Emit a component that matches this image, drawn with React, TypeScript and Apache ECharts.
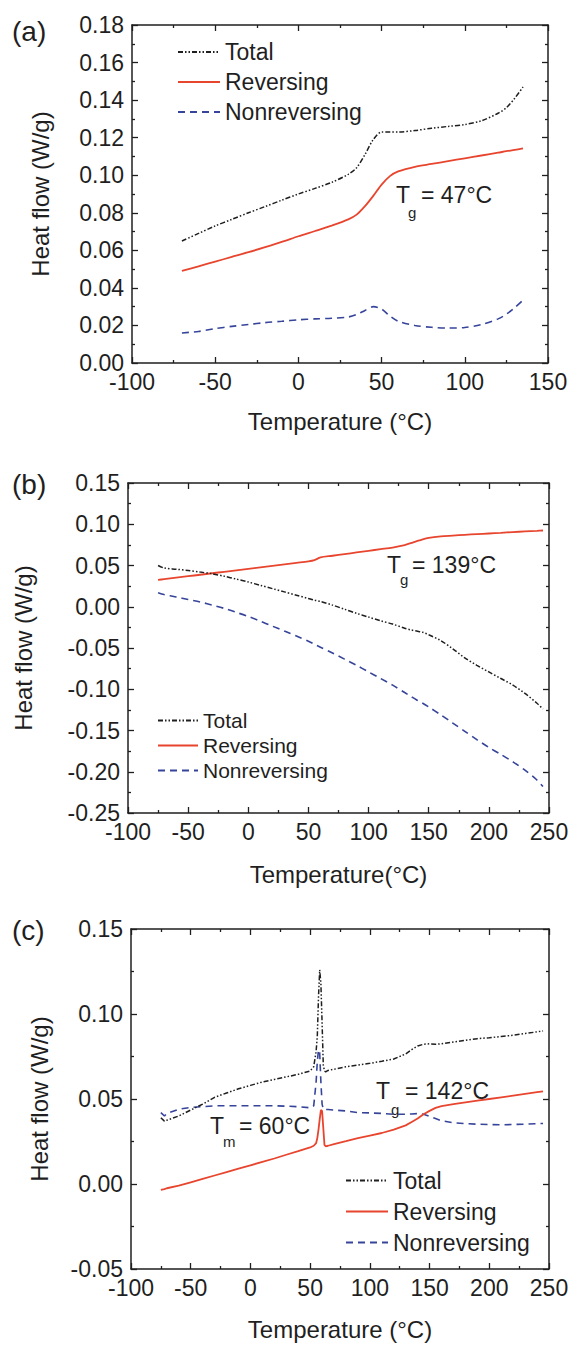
import React, { useEffect, useRef } from "react";
import * as echarts from "echarts";

const FONT = "'Liberation Sans', Arial, Helvetica, sans-serif";
const INK = "#1f1f1f";
const RED = "#e8452f";
const BLUE = "#36449a";

// ---- (a) ----
const tempA = [-70, -60, -50, -40, -30, -20, -10, 0, 10, 20, 30, 35, 40, 45, 50, 55, 60, 70, 80, 90, 100, 110, 120, 125, 130, 135];
const totalA = [0.065, 0.069, 0.073, 0.0765, 0.08, 0.0833, 0.0867, 0.09, 0.093, 0.0962, 0.1005, 0.104, 0.111, 0.119, 0.123, 0.123, 0.123, 0.1238, 0.125, 0.126, 0.127, 0.129, 0.133, 0.136, 0.141, 0.147];
const reversingA = [0.049, 0.0515, 0.054, 0.0565, 0.059, 0.0617, 0.0645, 0.0675, 0.0703, 0.0732, 0.0765, 0.079, 0.0835, 0.089, 0.095, 0.0995, 0.102, 0.1045, 0.106, 0.1075, 0.109, 0.1105, 0.112, 0.1128, 0.1135, 0.1143];
const nonreversingA = [0.016, 0.0168, 0.0183, 0.0195, 0.0205, 0.0215, 0.0222, 0.023, 0.0235, 0.0238, 0.0245, 0.0258, 0.028, 0.03, 0.0287, 0.025, 0.0222, 0.02, 0.019, 0.0186, 0.0189, 0.0205, 0.0235, 0.026, 0.0295, 0.0335];

// ---- (b) ----
const tempB = [-75, -70, -60, -50, -40, -30, -20, -10, 0, 10, 20, 30, 40, 50, 55, 60, 70, 80, 90, 100, 110, 120, 130, 135, 140, 145, 150, 160, 170, 180, 190, 200, 210, 220, 230, 240, 245];
const totalB = [0.05, 0.047, 0.0455, 0.044, 0.042, 0.04, 0.037, 0.0335, 0.03, 0.026, 0.022, 0.018, 0.014, 0.01, 0.008, 0.0065, 0.002, -0.003, -0.008, -0.0125, -0.017, -0.021, -0.026, -0.028, -0.0295, -0.031, -0.034, -0.041, -0.051, -0.062, -0.071, -0.079, -0.087, -0.095, -0.105, -0.117, -0.124];
const reversingB = [0.0325, 0.0334, 0.0352, 0.037, 0.0388, 0.0406, 0.0424, 0.0442, 0.046, 0.0478, 0.0496, 0.0514, 0.0532, 0.055, 0.0565, 0.0598, 0.0618, 0.0638, 0.0658, 0.0678, 0.0698, 0.0718, 0.0748, 0.077, 0.0795, 0.0818, 0.0835, 0.0852, 0.0862, 0.0872, 0.088, 0.0888, 0.0896, 0.0905, 0.0913, 0.092, 0.0924];
const nonreversingB = [0.017, 0.0148, 0.0118, 0.0088, 0.0058, 0.002, -0.002, -0.0068, -0.0118, -0.0175, -0.0235, -0.0295, -0.0355, -0.0418, -0.0455, -0.049, -0.056, -0.0635, -0.071, -0.079, -0.087, -0.095, -0.104, -0.1085, -0.113, -0.117, -0.1215, -0.131, -0.141, -0.151, -0.161, -0.1705, -0.179, -0.188, -0.198, -0.21, -0.218];

// ---- (c) ----
const tempC = [-75, -72, -70, -60, -50, -40, -30, -20, -10, 0, 10, 20, 30, 40, 50, 53, 55, 56, 57, 58, 59, 60, 61, 62, 63, 65, 70, 80, 90, 100, 110, 120, 130, 135, 140, 145, 150, 155, 160, 170, 180, 190, 200, 210, 220, 230, 240, 245];
const totalC = [0.039, 0.037, 0.0375, 0.04, 0.0435, 0.047, 0.051, 0.0535, 0.056, 0.058, 0.06, 0.0615, 0.063, 0.0645, 0.0665, 0.069, 0.078, 0.087, 0.11, 0.126, 0.118, 0.095, 0.07, 0.0665, 0.066, 0.0668, 0.0675, 0.069, 0.07, 0.071, 0.0722, 0.0735, 0.0765, 0.079, 0.0812, 0.0822, 0.0825, 0.0822, 0.0825, 0.0835, 0.0845, 0.0855, 0.086, 0.0868, 0.0875, 0.0885, 0.0895, 0.09];
const reversingC = [-0.0035, -0.003, -0.0025, -0.001, 0.001, 0.003, 0.005, 0.007, 0.009, 0.011, 0.013, 0.015, 0.0172, 0.0193, 0.0215, 0.0225, 0.024, 0.027, 0.032, 0.038, 0.0435, 0.043, 0.033, 0.023, 0.0222, 0.0225, 0.0235, 0.0252, 0.027, 0.0285, 0.03, 0.032, 0.0345, 0.0365, 0.0385, 0.041, 0.043, 0.0448, 0.0458, 0.047, 0.048, 0.049, 0.05, 0.051, 0.052, 0.053, 0.054, 0.0545];
const nonreversingC = [0.042, 0.04, 0.0415, 0.044, 0.045, 0.0455, 0.046, 0.046, 0.046, 0.046, 0.046, 0.046, 0.0458, 0.0455, 0.0448, 0.046, 0.06, 0.072, 0.079, 0.077, 0.06, 0.047, 0.044, 0.0438, 0.0438, 0.0438, 0.0435, 0.043, 0.042, 0.0418, 0.0415, 0.041, 0.041, 0.0412, 0.0414, 0.041, 0.0398, 0.0385, 0.0372, 0.036, 0.0355, 0.0352, 0.035, 0.0348, 0.035, 0.0352, 0.0355, 0.0356];

const seriesNames = ["Total", "Reversing", "Nonreversing"];

const pairs = (xs: number[], ys: number[]) => xs.map((x, i) => [x, ys[i]]);

const lineStyles = [
  { color: INK, width: 1.5, type: [5, 2, 1.5, 2, 1.5, 2] as any },
  { color: RED, width: 1.8, type: "solid" as any },
  { color: BLUE, width: 1.6, type: [7, 5] as any },
];

function makeSeries(axis: number, xs: number[], ys: number[][], smooth: number | boolean) {
  return ys.map((vals, k) => ({
    type: "line",
    name: seriesNames[k],
    xAxisIndex: axis,
    yAxisIndex: axis,
    data: pairs(xs, vals),
    symbol: "none",
    showSymbol: false,
    smooth,
    lineStyle: lineStyles[k],
    itemStyle: { color: lineStyles[k].color },
    z: 3 - k,
  }));
}

const tickLine = { color: INK, width: 1.3 };

function xAxes(gridIndex: number, max: number, name: string, nameGap: number, labelMargin: number) {
  const common = {
    type: "value",
    gridIndex,
    min: -100,
    max,
    interval: 50,
    splitLine: { show: false },
    axisLine: { show: true, onZero: false, lineStyle: { color: INK, width: 1.5 } },
    axisTick: { show: true, inside: true, length: 6, lineStyle: tickLine },
    minorTick: { show: true, splitNumber: 2, length: 3, lineStyle: tickLine },
  };
  return [
    {
      ...common,
      position: "bottom",
      name,
      nameLocation: "middle",
      nameGap,
      nameTextStyle: { fontSize: 24, color: INK, fontFamily: FONT },
      axisLabel: { fontSize: 23, lineHeight: 16, color: INK, margin: labelMargin, fontFamily: FONT },
    },
    { ...common, position: "top", axisLabel: { show: false } },
  ];
}

function yAxes(gridIndex: number, min: number, max: number, interval: number, nameGap: number) {
  const common = {
    type: "value",
    gridIndex,
    min,
    max,
    interval,
    splitLine: { show: false },
    axisLine: { show: true, onZero: false, lineStyle: { color: INK, width: 1.5 } },
    axisTick: { show: true, inside: true, length: 6, lineStyle: tickLine },
    minorTick: { show: true, splitNumber: 2, length: 3, lineStyle: tickLine },
  };
  return [
    {
      ...common,
      position: "left",
      name: "Heat flow (W/g)",
      nameLocation: "middle",
      nameGap,
      nameTextStyle: { fontSize: 24, color: INK, fontFamily: FONT },
      axisLabel: {
        fontSize: 23,
        lineHeight: 16,
        color: INK,
        margin: 8,
        fontFamily: FONT,
        formatter: (v: number) => (Math.abs(v) < 1e-9 ? 0 : v).toFixed(2),
      },
    },
    { ...common, position: "right", axisLabel: { show: false } },
  ];
}

function legendAt(left: number, top: number, itemWidth: number, fontSize: number, rowHeight: number) {
  return {
    orient: "vertical",
    left,
    top,
    padding: 0,
    itemGap: 0,
    itemWidth,
    itemHeight: 12,
    selectedMode: false,
    data: seriesNames,
    // line-only keys: the marker dot is made invisible
    itemStyle: { color: "transparent", borderWidth: 0, opacity: 0 },
    textStyle: { fontSize, color: INK, fontFamily: FONT, lineHeight: rowHeight },
  };
}

function txt(x: number, y: number, text: string, fontSize: number) {
  return {
    type: "text",
    x,
    y,
    silent: true,
    style: { text, fontSize, fontFamily: FONT, fill: INK, align: "left", verticalAlign: "middle" },
  };
}

const option = {
  animation: false,
  backgroundColor: "#ffffff",
  textStyle: { fontFamily: FONT },
  grid: [
    { left: 132, top: 25, width: 416, height: 338 },
    { left: 128, top: 483, width: 421, height: 330 },
    { left: 131, top: 929, width: 418, height: 340 },
  ],
  xAxis: [
    ...xAxes(0, 150, "Temperature (°C)", 46, 11),
    ...xAxes(1, 250, "Temperature(°C)", 49, 11),
    ...xAxes(2, 250, "Temperature (°C)", 48, 11),
  ],
  yAxis: [
    ...yAxes(0, 0, 0.18, 0.02, 80),
    ...yAxes(1, -0.25, 0.15, 0.05, 93),
    ...yAxes(2, -0.05, 0.15, 0.05, 80),
  ],
  legend: [
    legendAt(177, 37, 42, 23, 30),
    legendAt(157, 708, 40, 21, 25),
    legendAt(345, 1165, 42, 23, 31),
  ],
  series: [
    ...makeSeries(0, tempA, [totalA, reversingA, nonreversingA], 0.3),
    ...makeSeries(2, tempB, [totalB, reversingB, nonreversingB], 0.3),
    ...makeSeries(4, tempC, [totalC, reversingC, nonreversingC], false),
  ],
  graphic: [
    txt(12, 31, "(a)", 28),
    txt(12, 484, "(b)", 28),
    txt(12, 930, "(c)", 28),
    // glass transition in (a)
    txt(396, 195, "T", 23),
    txt(408, 212, "g", 15),
    txt(421, 195, "= 47°C", 23),
    // glass transition in (b)
    txt(387, 565, "T", 23),
    txt(400, 579, "g", 15),
    txt(412, 565, "= 139°C", 23),
    // glass transition in (c)
    txt(376, 1091, "T", 23),
    txt(391, 1109, "g", 15),
    txt(405, 1091, "= 142°C", 23),
    // melting in (c)
    txt(210, 1126, "T", 23),
    txt(223, 1141, "m", 15),
    txt(239, 1126, "= 60°C", 23),
  ],
};

export default function App() {
  const ref = useRef<HTMLDivElement>(null);
  useEffect(() => {
    if (!ref.current) return;
    const chart = echarts.init(ref.current, null, { renderer: "svg" });
    chart.setOption(option as any);
    return () => chart.dispose();
  }, []);
  return (
    <div
      ref={ref}
      style={{ position: "absolute", left: 0, top: 0, width: 572, height: 1345, background: "#fff" }}
    />
  );
}
